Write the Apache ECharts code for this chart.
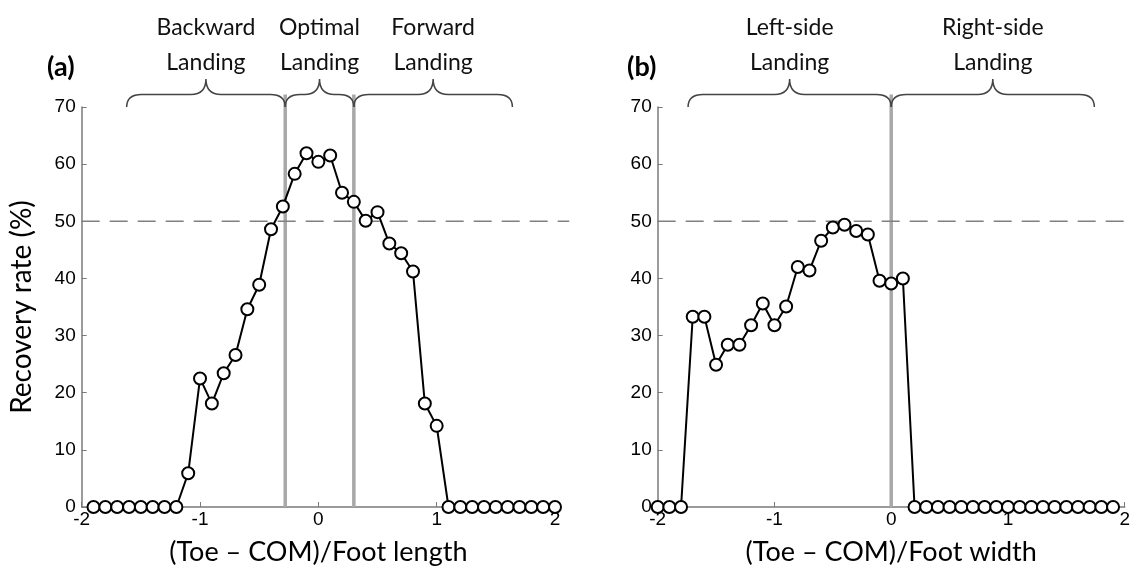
<!DOCTYPE html>
<html><head><meta charset="utf-8">
<script src="https://cdn.jsdelivr.net/npm/echarts@6/dist/echarts.min.js"></script>
<style>html,body{margin:0;padding:0;background:#fff}#c{width:1133px;height:573px}</style>
</head><body><div id="c"></div>
<script>
// ---- data ----
const leftX = [-1.9,-1.8,-1.7,-1.6,-1.5,-1.4,-1.3,-1.2,-1.1,-1.0,-0.9,-0.8,-0.7,-0.6,-0.5,-0.4,-0.3,-0.2,-0.1,0,0.1,0.2,0.3,0.4,0.5,0.6,0.7,0.8,0.9,1.0,1.1,1.2,1.3,1.4,1.5,1.6,1.7,1.8,1.9,2.0];
const leftRecovery = [0,0,0,0,0,0,0,0,5.9,22.5,18.1,23.4,26.6,34.6,38.9,48.6,52.6,58.3,61.9,60.4,61.5,55.0,53.4,50.1,51.6,46.1,44.4,41.2,18.1,14.2,0,0,0,0,0,0,0,0,0,0];
const rightX = [-2.0,-1.9,-1.8,-1.7,-1.6,-1.5,-1.4,-1.3,-1.2,-1.1,-1.0,-0.9,-0.8,-0.7,-0.6,-0.5,-0.4,-0.3,-0.2,-0.1,0,0.1,0.2,0.3,0.4,0.5,0.6,0.7,0.8,0.9,1.0,1.1,1.2,1.3,1.4,1.5,1.6,1.7,1.8,1.9];
const rightRecovery = [0,0,0,33.3,33.3,24.9,28.4,28.4,31.8,35.6,31.8,35.1,42.0,41.4,46.6,48.9,49.4,48.3,47.7,39.6,39.1,40.0,0,0,0,0,0,0,0,0,0,0,0,0,0,0,0,0,0,0];
const leftBoundaries = [-0.28, 0.3];
const rightBoundaries = [0];
const leftBraces = [[-1.62,-0.28],[-0.28,0.3],[0.3,1.64]];
const leftBraceLabels = ['Backward\nLanding','Optimal\nLanding','Forward\nLanding'];
const rightBraces = [[-1.74,0],[0,1.74]];
const rightBraceLabels = ['Left-side\nLanding','Right-side\nLanding'];
const threshold = 50;
const thresholdSpan = [-2, 2.12];
const braceLevels = [70, 72.2, 74.9]; // ends, bar, peak
const panelLabels = ['(a)','(b)'];
const xTitles = ['(Toe \u2013 COM)/Foot length','(Toe \u2013 COM)/Foot width'];
const yTitle = 'Recovery rate (%)';
const xTickMin = -2, xTickMax = 2, xTickStep = 1;
const yTickMin = 0, yTickMax = 70, yTickStep = 10;

// ---- rendering ----
const chart = echarts.init(document.getElementById('c'), null, {renderer:'canvas'});
const AX = '#7a7a7a';
const TXT = 'Lato, "Open Sans", sans-serif';
const NUM = '"Liberation Sans", Arial, sans-serif';

function braceRender(braces, labels){
  return function(params, api){
    const b = braces[params.dataIndex];
    const p1 = api.coord([b[0], braceLevels[0]]);
    const p2 = api.coord([b[1], braceLevels[0]]);
    const ym = api.coord([b[0], braceLevels[1]])[1];
    const yp = api.coord([b[0], braceLevels[2]])[1];
    const x1 = p1[0], x2 = p2[0], ye = p1[1], xm = (x1 + x2) / 2;
    const r = Math.min(15, (x2 - x1) / 4);
    const d = 'M' + x1 + ',' + ye + ' Q' + x1 + ',' + ym + ' ' + (x1 + r) + ',' + ym +
      ' L' + (xm - r) + ',' + ym + ' Q' + xm + ',' + ym + ' ' + xm + ',' + yp +
      ' Q' + xm + ',' + ym + ' ' + (xm + r) + ',' + ym +
      ' L' + (x2 - r) + ',' + ym + ' Q' + x2 + ',' + ym + ' ' + x2 + ',' + ye;
    return {type:'group', children:[
      {type:'path', shape:{pathData:d}, style:{stroke:'#444', lineWidth:1.5, fill:null}},
      {type:'text', style:{text:labels[params.dataIndex], x:xm, y:yp + 1, align:'center', verticalAlign:'bottom',
        font:'23px ' + TXT, lineHeight:35, fill:'#111'}}
    ]};
  };
}
function boundaryRender(bounds){
  return function(params, api){
    const x = bounds[params.dataIndex];
    const a = api.coord([x, yTickMin]);
    const b = api.coord([x, braceLevels[1]]);
    return {type:'line', shape:{x1:a[0], y1:a[1], x2:b[0], y2:b[1]}, style:{stroke:'#a8a8a8', lineWidth:3.5}};
  };
}
function thresholdRender(params, api){
  const a = api.coord([thresholdSpan[0], threshold]);
  const b = api.coord([thresholdSpan[1], threshold]);
  return {type:'line', shape:{x1:a[0], y1:a[1], x2:b[0], y2:b[1]}, style:{stroke:'#808080', lineWidth:1.5, lineDash:[18,10]}};
}
function xAxisFor(i){
  return {gridIndex:i, type:'value', min:xTickMin, max:xTickMax, interval:xTickStep,
    axisLine:{show:true, onZero:false, lineStyle:{color:AX, width:1.5}},
    axisTick:{show:true, inside:true, length:5, lineStyle:{color:AX, width:1}},
    splitLine:{show:false},
    axisLabel:{color:'#000', fontFamily:NUM, fontSize:19, margin:3},
    name:xTitles[i], nameLocation:'middle', nameGap:32,
    nameTextStyle:{fontFamily:TXT, fontSize:27, color:'#000'}};
}
function yAxisFor(i){
  const o = {gridIndex:i, type:'value', min:yTickMin, max:yTickMax, interval:yTickStep,
    axisLine:{show:true, onZero:false, lineStyle:{color:AX, width:1.5}},
    axisTick:{show:true, inside:true, length:5, lineStyle:{color:AX, width:1}},
    splitLine:{show:false},
    axisLabel:{color:'#000', fontFamily:NUM, fontSize:19, margin:6}};
  if (i === 0) {
    o.name = yTitle; o.nameLocation = 'middle'; o.nameGap = 46;
    o.nameTextStyle = {fontFamily:TXT, fontSize:28, color:'#000'};
  }
  return o;
}
function dataSeries(i, xs, ys){
  return {type:'line', xAxisIndex:i, yAxisIndex:i, data: xs.map((x, k) => [x, ys[k]]),
    symbol:'emptyCircle', symbolSize:12, showSymbol:true, clip:false,
    lineStyle:{color:'#000', width:2}, itemStyle:{color:'#000', borderColor:'#000', borderWidth:2.2},
    z:5, silent:true};
}
function customSeries(i, data, render, z){
  return {type:'custom', xAxisIndex:i, yAxisIndex:i, data:data, renderItem:render, clip:false, silent:true, z:z,
    encode:{x:0, y:-1}};
}

const option = {
  animation:false,
  backgroundColor:'#fff',
  title:[
    {text:panelLabels[0], left:47, top:54, padding:0, textStyle:{fontFamily:TXT, fontWeight:'bold', fontSize:27, color:'#000'}},
    {text:panelLabels[1], left:627, top:54, padding:0, textStyle:{fontFamily:TXT, fontWeight:'bold', fontSize:27, color:'#000'}}
  ],
  grid:[
    {left:81.7, top:107, width:473.3, height:400},
    {left:657.7, top:107, width:472, height:400}
  ],
  xAxis:[xAxisFor(0), xAxisFor(1)],
  yAxis:[yAxisFor(0), yAxisFor(1)],
  series:[
    customSeries(0, leftBoundaries.map(v => [v]), boundaryRender(leftBoundaries), 1),
    customSeries(1, rightBoundaries.map(v => [v]), boundaryRender(rightBoundaries), 1),
    customSeries(0, [[thresholdSpan[0]]], thresholdRender, 2),
    customSeries(1, [[thresholdSpan[0]]], thresholdRender, 2),
    customSeries(0, leftBraces.map(b => [b[0], b[1]]), braceRender(leftBraces, leftBraceLabels), 3),
    customSeries(1, rightBraces.map(b => [b[0], b[1]]), braceRender(rightBraces, rightBraceLabels), 3),
    dataSeries(0, leftX, leftRecovery),
    dataSeries(1, rightX, rightRecovery)
  ]
};
chart.setOption(option);
</script>
</body></html>
